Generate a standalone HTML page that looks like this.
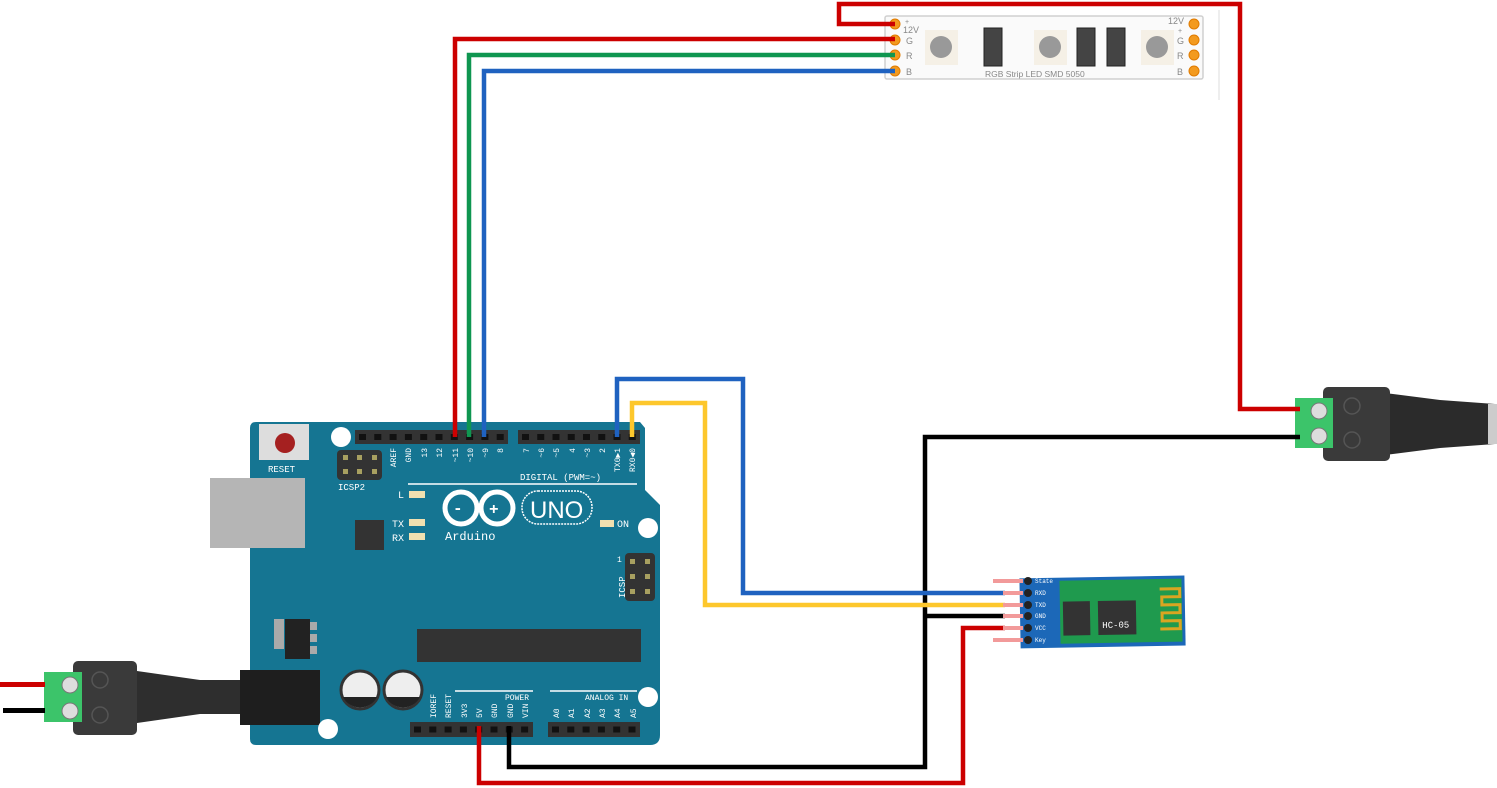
<!DOCTYPE html>
<html><head><meta charset="utf-8"><style>
html,body{margin:0;padding:0;background:#fff;}
svg{display:block;font-family:"Liberation Mono",monospace;}
</style></head><body>
<svg width="1497" height="788" viewBox="0 0 1497 788" xmlns="http://www.w3.org/2000/svg">
<!-- LED strip -->
<rect x="885" y="16" width="318" height="63" rx="2" fill="#fafafa" stroke="#d0d0d0" stroke-width="1.5"/>
<line x1="1219" y1="10" x2="1219" y2="100" stroke="#ddd" stroke-width="1"/>
<g fill="#f39a1e" stroke="#e07b00">
<circle cx="895" cy="24" r="5"/><circle cx="895" cy="40" r="5"/><circle cx="895" cy="55" r="5"/><circle cx="895" cy="71" r="5"/>
<circle cx="1194" cy="24" r="5"/><circle cx="1194" cy="40" r="5"/><circle cx="1194" cy="55" r="5"/><circle cx="1194" cy="71" r="5"/>
</g>
<g font-size="9" fill="#888" font-family="Liberation Sans,sans-serif">
<text x="905" y="24" font-size="7">+</text><text x="903" y="33">12V</text><text x="906" y="44">G</text><text x="906" y="59">R</text><text x="906" y="75">B</text>
<text x="1168" y="24">12V</text><text x="1178" y="33" font-size="7">+</text><text x="1177" y="44">G</text><text x="1177" y="59">R</text><text x="1177" y="75">B</text>
<text x="985" y="77" font-size="8.5">RGB Strip LED SMD 5050</text>
</g>
<g>
<rect x="925" y="30" width="33" height="35" fill="#f5f0e6"/><circle cx="941" cy="47" r="11" fill="#999"/>
<rect x="1034" y="30" width="33" height="35" fill="#f5f0e6"/><circle cx="1050" cy="47" r="11" fill="#999"/>
<rect x="1141" y="30" width="33" height="35" fill="#f5f0e6"/><circle cx="1157" cy="47" r="11" fill="#999"/>
<rect x="984" y="28" width="18" height="38" fill="#444" stroke="#222"/>
<rect x="1077" y="28" width="18" height="38" fill="#444" stroke="#222"/>
<rect x="1107" y="28" width="18" height="38" fill="#444" stroke="#222"/>
</g>
<!-- Right DC jack -->
<path d="M1385 393 L1440 400 L1495 404 L1495 444 L1440 448 L1385 455 Z" fill="#2b2b2b"/>
<rect x="1488" y="404" width="9" height="40" fill="#ccc"/>
<rect x="1323" y="387" width="67" height="74" rx="5" fill="#3a3a3a"/>
<rect x="1295" y="398" width="38" height="50" fill="#3cc46a"/>
<circle cx="1319" cy="411" r="8" fill="#ddd" stroke="#777"/><circle cx="1319" cy="436" r="8" fill="#ddd" stroke="#777"/>
<circle cx="1352" cy="406" r="8" fill="none" stroke="#555" stroke-width="1.5"/><circle cx="1352" cy="440" r="8" fill="none" stroke="#555" stroke-width="1.5"/>
<!-- Left DC jack -->
<path d="M130 670 L200 680 L245 680 L245 714 L200 714 L130 724 Z" fill="#2e2e2e"/>
<rect x="73" y="661" width="64" height="74" rx="5" fill="#3a3a3a"/>
<rect x="44" y="672" width="38" height="50" fill="#3cc46a"/>
<circle cx="70" cy="685" r="8" fill="#ddd" stroke="#777"/><circle cx="70" cy="711" r="8" fill="#ddd" stroke="#777"/>
<circle cx="100" cy="680" r="8" fill="none" stroke="#555" stroke-width="1.5"/><circle cx="100" cy="715" r="8" fill="none" stroke="#555" stroke-width="1.5"/>
<rect x="0" y="682" width="45" height="5" fill="#c00"/><rect x="3" y="708" width="42" height="5" fill="#000"/>
<!-- Arduino -->
<path d="M256 422 H640 L645 428 V490 L660 505 V735 Q660 745 650 745 H256 Q250 745 250 739 V428 Q250 422 256 422 Z" fill="#157592"/>
<rect x="210" y="478" width="95" height="70" fill="#b5b5b5"/>
<rect x="240" y="670" width="80" height="55" fill="#1e1e1e"/>
<circle cx="341" cy="437" r="10" fill="#fff"/><circle cx="648" cy="528" r="10" fill="#fff"/><circle cx="648" cy="697" r="10" fill="#fff"/><circle cx="328" cy="729" r="10" fill="#fff"/>
<rect x="259" y="424" width="50" height="36" fill="#ddd"/><circle cx="285" cy="443" r="10" fill="#a52020"/>
<text x="268" y="472" font-size="9" fill="#fff">RESET</text>
<rect x="337" y="450" width="45" height="30" rx="4" fill="#333"/>
<g fill="#a8a060"><rect x="343" y="455" width="5" height="5"/><rect x="357" y="455" width="5" height="5"/><rect x="372" y="455" width="5" height="5"/><rect x="343" y="469" width="5" height="5"/><rect x="357" y="469" width="5" height="5"/><rect x="372" y="469" width="5" height="5"/></g>
<text x="338" y="490" font-size="9" fill="#fff">ICSP2</text>
<rect x="355" y="520" width="29" height="30" fill="#333"/>
<rect x="274" y="619" width="10" height="30" fill="#aaa"/>
<rect x="307" y="622" width="10" height="8" fill="#aaa"/><rect x="307" y="634" width="10" height="8" fill="#aaa"/><rect x="307" y="646" width="10" height="8" fill="#aaa"/>
<rect x="285" y="619" width="25" height="40" fill="#222"/>
<rect x="417" y="629" width="224" height="33" fill="#333"/>
<circle cx="360" cy="690" r="19" fill="#eee" stroke="#333" stroke-width="3"/><circle cx="403" cy="690" r="19" fill="#eee" stroke="#333" stroke-width="3"/>
<path d="M343 697 h34 a19 19 0 0 1 -34 0z" fill="#222"/><path d="M386 697 h34 a19 19 0 0 1 -34 0z" fill="#222"/>
<rect x="355" y="430" width="153" height="14" fill="#333"/><rect x="518" y="430" width="122" height="14" fill="#333"/>
<rect x="410" y="722" width="123" height="15" fill="#333"/><rect x="548" y="722" width="92" height="15" fill="#333"/>
<g stroke="#111" stroke-width="6">
<line x1="359" y1="437" x2="508" y2="437" stroke-dasharray="7 8.3"/>
<line x1="522" y1="437" x2="640" y2="437" stroke-dasharray="7 8.25"/>
<line x1="414" y1="729.5" x2="533" y2="729.5" stroke-dasharray="7 8.3"/>
<line x1="552" y1="729.5" x2="640" y2="729.5" stroke-dasharray="7 8.3"/>
</g>
<rect x="625" y="553" width="30" height="48" rx="4" fill="#333"/>
<g fill="#a8a060"><rect x="630" y="559" width="5" height="5"/><rect x="645" y="559" width="5" height="5"/><rect x="630" y="574" width="5" height="5"/><rect x="645" y="574" width="5" height="5"/><rect x="630" y="589" width="5" height="5"/><rect x="645" y="589" width="5" height="5"/></g>
<text x="617" y="562" font-size="8" fill="#fff">1</text>
<text transform="translate(625,598) rotate(-90)" font-size="9" fill="#fff">ICSP</text>
<g font-size="8" fill="#fff">
<text transform="translate(396,448) rotate(-90)" text-anchor="end">AREF</text>
<text transform="translate(411,448) rotate(-90)" text-anchor="end">GND</text>
<text transform="translate(427,448) rotate(-90)" text-anchor="end">13</text>
<text transform="translate(442,448) rotate(-90)" text-anchor="end">12</text>
<text transform="translate(458,448) rotate(-90)" text-anchor="end">~11</text>
<text transform="translate(473,448) rotate(-90)" text-anchor="end">~10</text>
<text transform="translate(488,448) rotate(-90)" text-anchor="end">~9</text>
<text transform="translate(503,448) rotate(-90)" text-anchor="end">8</text>
<text transform="translate(529,448) rotate(-90)" text-anchor="end">7</text>
<text transform="translate(544,448) rotate(-90)" text-anchor="end">~6</text>
<text transform="translate(559,448) rotate(-90)" text-anchor="end">~5</text>
<text transform="translate(575,448) rotate(-90)" text-anchor="end">4</text>
<text transform="translate(590,448) rotate(-90)" text-anchor="end">~3</text>
<text transform="translate(605,448) rotate(-90)" text-anchor="end">2</text>
<text transform="translate(620,448) rotate(-90)" text-anchor="end">TX0▶1</text>
<text transform="translate(635,448) rotate(-90)" text-anchor="end">RX0◀0</text>
<text transform="translate(436,718) rotate(-90)">IOREF</text>
<text transform="translate(451,718) rotate(-90)">RESET</text>
<text transform="translate(467,718) rotate(-90)">3V3</text>
<text transform="translate(482,718) rotate(-90)">5V</text>
<text transform="translate(497,718) rotate(-90)">GND</text>
<text transform="translate(513,718) rotate(-90)">GND</text>
<text transform="translate(528,718) rotate(-90)">VIN</text>
<text transform="translate(559,718) rotate(-90)">A0</text>
<text transform="translate(574,718) rotate(-90)">A1</text>
<text transform="translate(590,718) rotate(-90)">A2</text>
<text transform="translate(605,718) rotate(-90)">A3</text>
<text transform="translate(620,718) rotate(-90)">A4</text>
<text transform="translate(636,718) rotate(-90)">A5</text>
</g>
<line x1="408" y1="484" x2="637" y2="484" stroke="#fff" stroke-width="1.5"/>
<line x1="455" y1="691" x2="533" y2="691" stroke="#fff" stroke-width="1.5"/><line x1="550" y1="691" x2="637" y2="691" stroke="#fff" stroke-width="1.5"/>
<text x="520" y="480" font-size="9" fill="#fff">DIGITAL (PWM=~)</text>
<text x="505" y="700" font-size="8" fill="#fff">POWER</text><text x="585" y="700" font-size="8" fill="#fff">ANALOG IN</text>
<text x="398" y="498" font-size="10" fill="#fff">L</text><text x="392" y="527" font-size="10" fill="#fff">TX</text><text x="392" y="541" font-size="10" fill="#fff">RX</text>
<rect x="409" y="491" width="16" height="7" fill="#f0e0b0"/><rect x="409" y="519" width="16" height="7" fill="#f0e0b0"/><rect x="409" y="533" width="16" height="7" fill="#f0e0b0"/><rect x="600" y="520" width="14" height="7" fill="#f0e0b0"/>
<text x="617" y="527" font-size="10" fill="#fff">ON</text>
<circle cx="461" cy="508" r="16" fill="none" stroke="#fff" stroke-width="5"/><circle cx="497" cy="508" r="16" fill="none" stroke="#fff" stroke-width="5"/>
<text x="453" y="513" font-size="16" fill="#fff" font-weight="bold">-</text><text x="489" y="514" font-size="16" fill="#fff" font-weight="bold">+</text>
<rect x="522" y="491" width="70" height="33" rx="16" fill="none" stroke="#fff" stroke-width="1.5" stroke-dasharray="2 1"/>
<text x="530" y="518" font-size="24" fill="#fff" font-family="Liberation Sans,sans-serif">UNO</text>
<text x="445" y="540" font-size="12" fill="#fff">Arduino</text>
<!-- HC-05 -->
<g transform="rotate(-1 1100 611)">
<rect x="1020" y="577" width="165" height="70" fill="#1c68b8"/>
<rect x="1060" y="580" width="122" height="63" fill="#1f9a4e"/>
<rect x="1063" y="601" width="27" height="34" fill="#333"/><rect x="1098" y="601" width="38" height="34" fill="#333"/>
<text x="1102" y="628" font-size="9" fill="#fff">HC-05</text>
<path d="M1160 590 h20 v8 h-18 v8 h18 v8 h-18 v8 h18 v8 h-20" fill="none" stroke="#d9a521" stroke-width="3"/>
</g>
<g fill="#222"><circle cx="1028" cy="581" r="4"/><circle cx="1028" cy="593" r="4"/><circle cx="1028" cy="605" r="4"/><circle cx="1028" cy="616" r="4"/><circle cx="1028" cy="628" r="4"/><circle cx="1028" cy="640" r="4"/></g>
<g font-size="6" fill="#fff"><text x="1035" y="583">State</text><text x="1035" y="595">RXD</text><text x="1035" y="607">TXD</text><text x="1035" y="618">GND</text><text x="1035" y="630">VCC</text><text x="1035" y="642">Key</text></g>
<rect x="993" y="579" width="30" height="4" fill="#f29a9a"/><rect x="993" y="638" width="30" height="4" fill="#f29a9a"/>
<!-- Wires -->
<g fill="none" stroke-width="4.5" stroke-linejoin="miter">
<polyline points="455,437 455,39 895,39" stroke="#cc0000"/>
<polyline points="469,437 469,55 895,55" stroke="#0f9650"/>
<polyline points="484,437 484,71 895,71" stroke="#1f62c0"/>
<polyline points="895,24 839,24 839,4 1240,4 1240,409 1300,409" stroke="#cc0000"/>
<polyline points="1300,437 925,437 925,767 509,767 509,726" stroke="#000"/>
<polyline points="925,616 1005,616" stroke="#000"/>
<polyline points="479,726 479,783 963,783 963,628 1005,628" stroke="#cc0000"/>
<polyline points="617,437 617,379 743,379 743,593 1005,593" stroke="#1f62c0"/>
<polyline points="632,437 632,403 705,403 705,605 1005,605" stroke="#fdc72c"/>
</g>
<g fill="#f29a9a"><rect x="1003" y="591" width="20" height="4"/><rect x="1003" y="603" width="20" height="4"/><rect x="1003" y="614" width="20" height="4"/><rect x="1003" y="626" width="20" height="4"/></g>
</svg>
</body></html>
